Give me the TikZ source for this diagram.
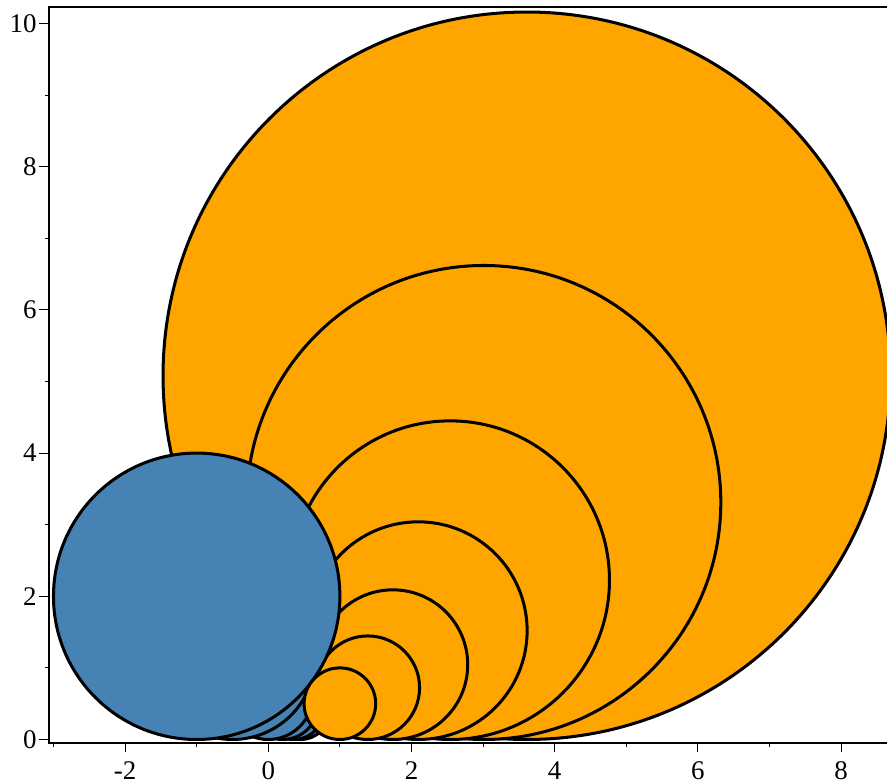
\documentclass[tikz,border=0pt]{standalone}
\usepackage{fontspec}
\setmainfont{Liberation Serif}
\definecolor{discorange}{RGB}{255,165,0}
\definecolor{discblue}{RGB}{70,130,180}

\begin{document}
\begin{tikzpicture}[
    disc/.style={draw=black, line width=1.2pt, fill=discorange},
    bluedisc/.style={draw=black, line width=1.2pt, fill=discblue},
    frame/.style={line width=0.8pt},
    tickmark/.style={line width=0.45pt},
    ticklabel/.style={font=\fontsize{10.7}{12}\selectfont, inner sep=0pt}
  ]
    \useasboundingbox (-3.747,-0.606) rectangle (8.641,10.328);

    % orange chain, largest first
    \foreach \cx/\r in {3.61/5.08, 3.01/3.31, 2.54/2.225, 2.095/1.52, 1.74/1.045, 1.39/0.723}
      \draw[disc] (\cx,\r) circle (\r);

    % small circles in the cusp, all through the touching point (0.6,0.8)
    \foreach \xo in {0.45, 0.35, 0.2, 0, -0.5} {
      \pgfmathsetmacro\rr{((0.6-(\xo))^2+0.64)/1.6}
      \draw[bluedisc] (\xo,\rr) circle (\rr);
    }

    \draw[bluedisc] (-1,2) circle (2);
    \draw[disc] (1,0.5) circle (0.5);

    % frame
    \coordinate (bl) at (-3.06,-0.05);
    \coordinate (tl) at (-3.06,10.228);
    \coordinate (br) at (8.75,-0.05);
    \coordinate (tr) at (8.75,10.228);
    \draw[frame] (br) -- (bl) -- (tl) -- (tr);

    % y axis
    \foreach \y in {0,2,...,10} {
      \draw[tickmark] (-3.06,\y) -- (-3.20,\y);
      \node[ticklabel, anchor=east] (ylab\y) at (-3.23,\y) {\y};
    }
    \foreach \y in {1,3,...,9}
      \draw[tickmark] (-3.06,\y) -- (-3.12,\y);

    % x axis
    \foreach \x in {-2,0,...,8} {
      \draw[tickmark] (\x,-0.05) -- (\x,-0.18);
      \node[ticklabel] (xlab\x) at (\x,-0.44) {\x};
    }
    \foreach \x in {-3,-1,...,7}
      \draw[tickmark] (\x,-0.05) -- (\x,-0.11);
\end{tikzpicture}
\end{document}
